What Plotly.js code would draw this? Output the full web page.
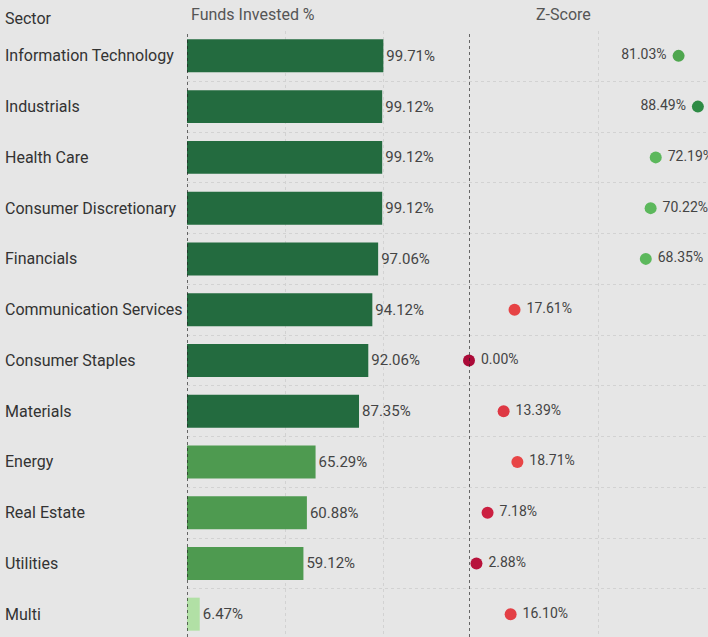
<!DOCTYPE html>
<html>
<head>
<meta charset="utf-8">
<script src="https://cdn.plot.ly/plotly-3.0.1.min.js"></script>
<style>
  html, body { margin: 0; padding: 0; background: #e6e6e6; }
  #chart { width: 708px; height: 637px; }
</style>
</head>
<body>
<div id="chart"></div>
<script>
// Sector breakdown: share of funds invested and sector z-score
const sectors = [
  "Information Technology", "Industrials", "Health Care", "Consumer Discretionary",
  "Financials", "Communication Services", "Consumer Staples", "Materials",
  "Energy", "Real Estate", "Utilities", "Multi"
];
const fundsInvested = [99.71, 99.12, 99.12, 99.12, 97.06, 94.12, 92.06, 87.35, 65.29, 60.88, 59.12, 6.47];
const zScores = [81.03, 88.49, 72.19, 70.22, 68.35, 17.61, 0.00, 13.39, 18.71, 7.18, 2.88, 16.10];

const W = 708;
const leftEdge = 187, splitEdge = 469;
const textFont = "Roboto, 'DejaVu Sans', sans-serif";
const NBSP = "\u00A0";

function barColor(v) {
  if (v >= 80) return "#236b3f";
  if (v >= 50) return "#4e9a50";
  return "#b1e0a5";
}

const barTrace = {
  type: "bar",
  orientation: "h",
  x: fundsInvested,
  y: sectors,
  xaxis: "x",
  yaxis: "y",
  width: 0.65,
  marker: { color: fundsInvested.map(barColor) },
  texttemplate: "%{x:.2f}%",
  textposition: "outside",
  constraintext: "none",
  cliponaxis: false,
  textfont: { family: textFont, size: 15, color: "#444" },
  hoverinfo: "skip"
};

// labels sit right of the dot, except near the right edge where they go left
const labelLeft = zScores.map(v => v > 80);

const dotTrace = {
  type: "scatter",
  mode: "markers+text",
  x: zScores,
  y: sectors,
  xaxis: "x2",
  yaxis: "y",
  cliponaxis: false,
  marker: {
    size: 12,
    color: zScores,
    cmin: 0,
    cmax: 100,
    colorscale: [
      [0.00, "#ab0a38"],
      [0.07, "#ca1e40"],
      [0.14, "#e03a44"],
      [0.19, "#e84646"],
      [0.68, "#5cb85c"],
      [0.73, "#5cb85c"],
      [0.81, "#4ea64e"],
      [0.885, "#2e8b45"],
      [1.00, "#1f7a3a"]
    ],
    line: { width: 0 }
  },
  text: zScores.map((v, i) => labelLeft[i] ? v.toFixed(2) + "%" + NBSP : NBSP + v.toFixed(2) + "%"),
  textposition: labelLeft.map(l => l ? "middle left" : "middle right"),
  textfont: { family: textFont, size: 14, color: "#444" },
  hoverinfo: "skip"
};

const gridStyle = { showgrid: true, gridcolor: "#d2d2d2", griddash: "3px,3px", gridwidth: 1 };

const annotations = sectors.map(s => ({
  xref: "paper", yref: "y", x: 3 / W, y: s,
  xanchor: "left", yanchor: "middle", showarrow: false,
  text: s, font: { family: textFont, size: 16, color: "#333" }
}));
annotations.push(
  { xref: "paper", yref: "paper", x: 3 / W, y: 1, yshift: 13, xanchor: "left", yanchor: "middle",
    showarrow: false, text: "Sector", font: { family: textFont, size: 16, color: "#333" } },
  { xref: "paper", yref: "paper", x: 189 / W, y: 1, yshift: 17, xanchor: "left", yanchor: "middle",
    showarrow: false, text: "Funds Invested %", font: { family: textFont, size: 16, color: "#555" } },
  { xref: "paper", yref: "paper", x: 563 / W, y: 1, yshift: 17, xanchor: "center", yanchor: "middle",
    showarrow: false, text: "Z-Score", font: { family: textFont, size: 16, color: "#555" } }
);

const zeroLine = (xref) => ({
  type: "line", xref: xref, yref: "paper", x0: 0, x1: 0, y0: 0, y1: 1,
  line: { color: "#222", width: 1.3, dash: "dot" }, layer: "above"
});

const layout = {
  width: W,
  height: 637,
  margin: { l: 0, r: 0, t: 31, b: 0, pad: 0 },
  paper_bgcolor: "#e6e6e6",
  plot_bgcolor: "#e6e6e6",
  showlegend: false,
  xaxis: Object.assign({
    domain: [leftEdge / W, splitEdge / W],
    range: [0, 143.2],
    dtick: 50, tick0: 0,
    showticklabels: false, zeroline: false, fixedrange: true
  }, gridStyle),
  xaxis2: Object.assign({
    domain: [splitEdge / W, 1],
    range: [0, 92.4],
    dtick: 50, tick0: 0,
    anchor: "y",
    showticklabels: false, zeroline: false, fixedrange: true
  }, gridStyle),
  yaxis: Object.assign({
    type: "category",
    categoryorder: "array",
    categoryarray: sectors,
    range: [11.45, -0.49],
    tickson: "boundaries",
    ticks: "",
    showticklabels: false, zeroline: false, fixedrange: true
  }, gridStyle),
  annotations: annotations,
  shapes: [zeroLine("x"), zeroLine("x2")]
};

Plotly.newPlot("chart", [barTrace, dotTrace], layout, { displayModeBar: false, staticPlot: true });
</script>
</body>
</html>
